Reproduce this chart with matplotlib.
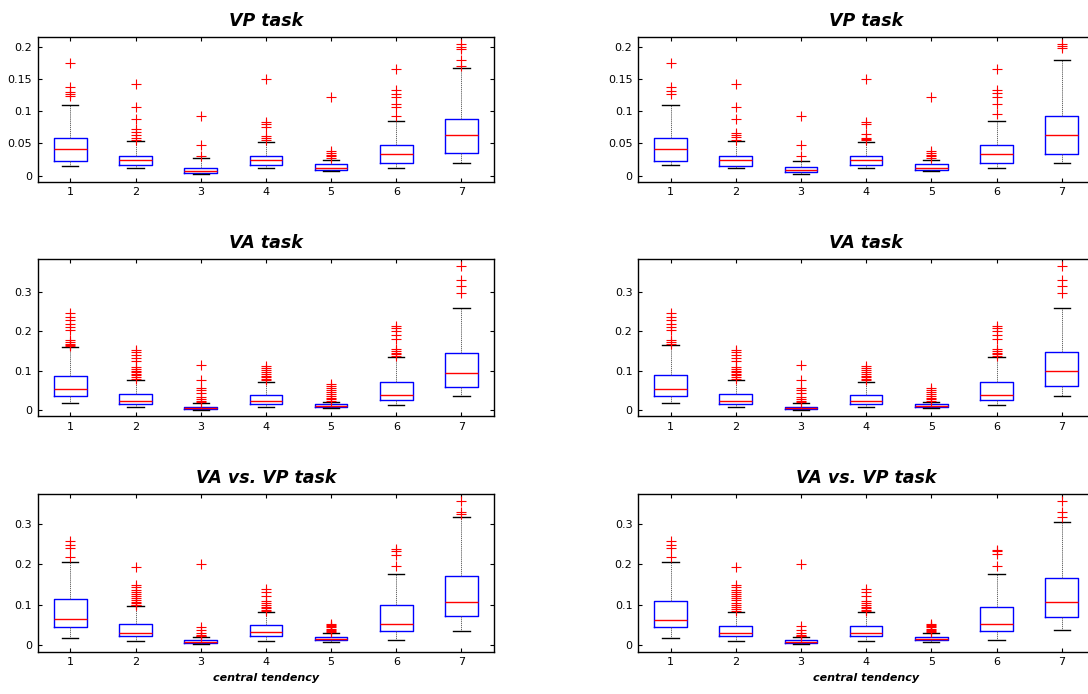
import matplotlib
matplotlib.use("Agg")
import matplotlib.pyplot as plt
from matplotlib.ticker import FormatStrFormatter

# summary statistics of the 7 boxes in every panel
# (lower whisker, Q1, median, Q3, upper whisker, outliers)

# VP task, left
vp1_lo = [0.0154, 0.0113, 0.0026, 0.0113, 0.0067, 0.0123, 0.0190]
vp1_q1 = [0.0230, 0.0160, 0.0036, 0.0160, 0.0092, 0.0190, 0.0359]
vp1_med = [0.0420, 0.0236, 0.0077, 0.0236, 0.0123, 0.0344, 0.0636]
vp1_q3 = [0.0590, 0.0313, 0.0123, 0.0313, 0.0174, 0.0482, 0.0882]
vp1_hi = [0.1097, 0.0544, 0.0267, 0.0523, 0.0246, 0.0851, 0.1667]
vp1_out = [
    [0.124, 0.127, 0.130, 0.137, 0.174],
    [0.056, 0.059, 0.0626, 0.067, 0.073, 0.088, 0.107, 0.142],
    [0.031, 0.048, 0.092],
    [0.055, 0.0585, 0.061, 0.076, 0.0795, 0.083, 0.150],
    [0.0277, 0.0303, 0.0328, 0.0354, 0.0385, 0.1226],
    [0.0933, 0.107, 0.111, 0.1226, 0.127, 0.133, 0.166],
    [0.170, 0.179, 0.196, 0.200, 0.2046],
]

# VP task, right
vp2_lo = [0.0164, 0.0113, 0.0026, 0.0113, 0.0067, 0.0123, 0.0190]
vp2_q1 = [0.0220, 0.0149, 0.0051, 0.0160, 0.0092, 0.0190, 0.0344]
vp2_med = [0.0420, 0.0236, 0.0087, 0.0236, 0.0123, 0.0344, 0.0636]
vp2_q3 = [0.0590, 0.0313, 0.0128, 0.0313, 0.0174, 0.0482, 0.0923]
vp2_hi = [0.1097, 0.0544, 0.0230, 0.0523, 0.0246, 0.0851, 0.1790]
vp2_out = [
    [0.127, 0.132, 0.138, 0.174],
    [0.056, 0.060, 0.0626, 0.066, 0.088, 0.107, 0.142],
    [0.031, 0.048, 0.092],
    [0.055, 0.057, 0.0585, 0.065, 0.080, 0.083, 0.150],
    [0.0277, 0.0303, 0.0328, 0.0354, 0.0385, 0.1226],
    [0.0954, 0.111, 0.1215, 0.128, 0.133, 0.166],
    [0.1985, 0.201, 0.2046],
]

# VA task, left
va1_lo = [0.0178, 0.0076, 0.0010, 0.0076, 0.0050, 0.0127, 0.0365]
va1_q1 = [0.0357, 0.0153, 0.0025, 0.0153, 0.0076, 0.0255, 0.0595]
va1_med = [0.0535, 0.0238, 0.0050, 0.0230, 0.0102, 0.0390, 0.0943]
va1_q3 = [0.0867, 0.0408, 0.0076, 0.0390, 0.0153, 0.0705, 0.1445]
va1_hi = [0.1600, 0.0748, 0.0178, 0.0720, 0.0212, 0.1340, 0.2590]
va1_out = [
    [0.163, 0.165, 0.168, 0.172, 0.177, 0.203, 0.210, 0.219, 0.228, 0.236, 0.245],
    [0.078, 0.083, 0.088, 0.092, 0.096, 0.100, 0.105, 0.110, 0.125, 0.133,
     0.140, 0.147, 0.153],
    [0.020, 0.024, 0.028, 0.034, 0.042, 0.051, 0.056, 0.075, 0.115],
    [0.075, 0.079, 0.083, 0.087, 0.092, 0.097, 0.102, 0.107, 0.112],
    [0.024, 0.027, 0.031, 0.035, 0.040, 0.045, 0.050, 0.055, 0.060, 0.065],
    [0.137, 0.141, 0.145, 0.150, 0.155, 0.180, 0.190, 0.200, 0.207, 0.212],
    [0.297, 0.314, 0.330, 0.364],
]

# VA task, right
va2_lo = [0.0178, 0.0076, 0.0010, 0.0076, 0.0050, 0.0127, 0.0365]
va2_q1 = [0.0357, 0.0153, 0.0025, 0.0153, 0.0076, 0.0255, 0.0610]
va2_med = [0.0540, 0.0238, 0.0050, 0.0230, 0.0102, 0.0390, 0.0980]
va2_q3 = [0.0880, 0.0400, 0.0076, 0.0390, 0.0153, 0.0705, 0.1470]
va2_hi = [0.1650, 0.0748, 0.0178, 0.0720, 0.0212, 0.1340, 0.2590]
va2_out = [
    [0.168, 0.172, 0.177, 0.203, 0.210, 0.219, 0.228, 0.236, 0.245],
    [0.078, 0.083, 0.088, 0.092, 0.096, 0.100, 0.105, 0.110, 0.125, 0.133,
     0.140, 0.147, 0.153],
    [0.020, 0.024, 0.028, 0.034, 0.042, 0.051, 0.056, 0.075, 0.115],
    [0.075, 0.079, 0.083, 0.087, 0.092, 0.097, 0.102, 0.107, 0.112],
    [0.024, 0.027, 0.031, 0.035, 0.040, 0.045, 0.050, 0.055],
    [0.137, 0.141, 0.145, 0.150, 0.155, 0.180, 0.190, 0.200, 0.207, 0.212],
    [0.297, 0.314, 0.330, 0.364],
]

# VA vs. VP task, left
vv1_lo = [0.0166, 0.0083, 0.0017, 0.0083, 0.0066, 0.0116, 0.0332]
vv1_q1 = [0.0440, 0.0224, 0.0042, 0.0224, 0.0108, 0.0340, 0.0723]
vv1_med = [0.0630, 0.0290, 0.0058, 0.0316, 0.0141, 0.0515, 0.1064]
vv1_q3 = [0.1138, 0.0515, 0.0116, 0.0490, 0.0190, 0.0980, 0.1700]
vv1_hi = [0.2060, 0.0956, 0.0190, 0.0806, 0.0290, 0.1760, 0.3180]
vv1_out = [
    [0.218, 0.241, 0.249, 0.2576],
    [0.098, 0.100, 0.103, 0.107, 0.112, 0.117, 0.122, 0.127, 0.132, 0.137,
     0.143, 0.149, 0.193],
    [0.021, 0.022, 0.025, 0.029, 0.037, 0.043, 0.201],
    [0.083, 0.087, 0.091, 0.095, 0.099, 0.103, 0.108, 0.122, 0.130, 0.138],
    [0.031, 0.034, 0.037, 0.040, 0.043, 0.046, 0.049, 0.052],
    [0.197, 0.224, 0.233, 0.2385],
    [0.326, 0.331, 0.359],
]

# VA vs. VP task, right
vv2_lo = [0.0166, 0.0083, 0.0017, 0.0083, 0.0066, 0.0116, 0.0366]
vv2_q1 = [0.0440, 0.0208, 0.0042, 0.0208, 0.0108, 0.0332, 0.0690]
vv2_med = [0.0607, 0.0290, 0.0058, 0.0290, 0.0141, 0.0515, 0.1064]
vv2_q3 = [0.1080, 0.0465, 0.0116, 0.0465, 0.0190, 0.0939, 0.1660]
vv2_hi = [0.2060, 0.0814, 0.0190, 0.0814, 0.0290, 0.1760, 0.3060]
vv2_out = [
    [0.218, 0.241, 0.249, 0.2576],
    [0.085, 0.090, 0.095, 0.100, 0.105, 0.112, 0.117, 0.122, 0.127, 0.132,
     0.137, 0.143, 0.149, 0.193],
    [0.021, 0.022, 0.025, 0.029, 0.037, 0.0457, 0.201],
    [0.083, 0.087, 0.091, 0.095, 0.099, 0.103, 0.108, 0.122, 0.130, 0.138],
    [0.031, 0.034, 0.037, 0.040, 0.043, 0.046, 0.049, 0.052],
    [0.197, 0.226, 0.233, 0.237],
    [0.318, 0.330, 0.359],
]

groups = [1, 2, 3, 4, 5, 6, 7]
titles = ["VP task", "VA task", "VA vs. VP task"]
xlabel = "central tendency"

panels = [
    [(vp1_lo, vp1_q1, vp1_med, vp1_q3, vp1_hi, vp1_out),
     (vp2_lo, vp2_q1, vp2_med, vp2_q3, vp2_hi, vp2_out)],
    [(va1_lo, va1_q1, va1_med, va1_q3, va1_hi, va1_out),
     (va2_lo, va2_q1, va2_med, va2_q3, va2_hi, va2_out)],
    [(vv1_lo, vv1_q1, vv1_med, vv1_q3, vv1_hi, vv1_out),
     (vv2_lo, vv2_q1, vv2_med, vv2_q3, vv2_hi, vv2_out)],
]

ylims = [(-0.0093, 0.2146), (-0.0152, 0.382), (-0.0175, 0.3748)]
yticks = [[0, 0.05, 0.1, 0.15, 0.2], [0, 0.1, 0.2, 0.3], [0, 0.1, 0.2, 0.3]]

# axes rectangles in figure fraction: (bottom, height) per row, left per column
rows = [(0.7382, 0.2081), (0.4006, 0.2258), (0.0610, 0.2268)]
cols = [0.0347, 0.5864]
width = 0.4194

fig = plt.figure(figsize=(10.88, 6.94), dpi=100)

for r, row in enumerate(panels):
    for c, (lo, q1, med, q3, hi, out) in enumerate(row):
        ax = fig.add_axes([cols[c], rows[r][0], width, rows[r][1]])
        stats = []
        for i in range(len(groups)):
            stats.append(dict(whislo=lo[i], q1=q1[i], med=med[i], q3=q3[i],
                              whishi=hi[i], fliers=out[i]))
        ax.bxp(stats, positions=groups, widths=0.5,
               boxprops=dict(color="blue", linewidth=1.0),
               medianprops=dict(color="red", linewidth=1.0),
               whiskerprops=dict(color="0.3", linewidth=0.6, linestyle=(0, (1.5, 1))),
               capprops=dict(color="black", linewidth=1.0),
               flierprops=dict(marker="+", markeredgecolor="red", markersize=6.5,
                               markeredgewidth=0.8, linestyle="none"))
        ax.set_xlim(0.5, 7.5)
        ax.set_ylim(*ylims[r])
        ax.set_xticks(groups)
        ax.set_xticklabels([str(g) for g in groups])
        ax.set_yticks(yticks[r])
        ax.yaxis.set_major_formatter(FormatStrFormatter("%g"))
        ax.tick_params(direction="in", top=True, right=True, length=3,
                       width=0.8, labelsize=8, pad=4)
        for s in ax.spines.values():
            s.set_linewidth(1.0)
        ax.set_title(titles[r], fontsize=12.5, fontweight="bold",
                     fontstyle="italic", pad=8)
        if r == 2:
            ax.set_xlabel(xlabel, fontsize=8, fontweight="bold",
                          fontstyle="italic", labelpad=4)

fig.savefig("out.png", dpi=100)
